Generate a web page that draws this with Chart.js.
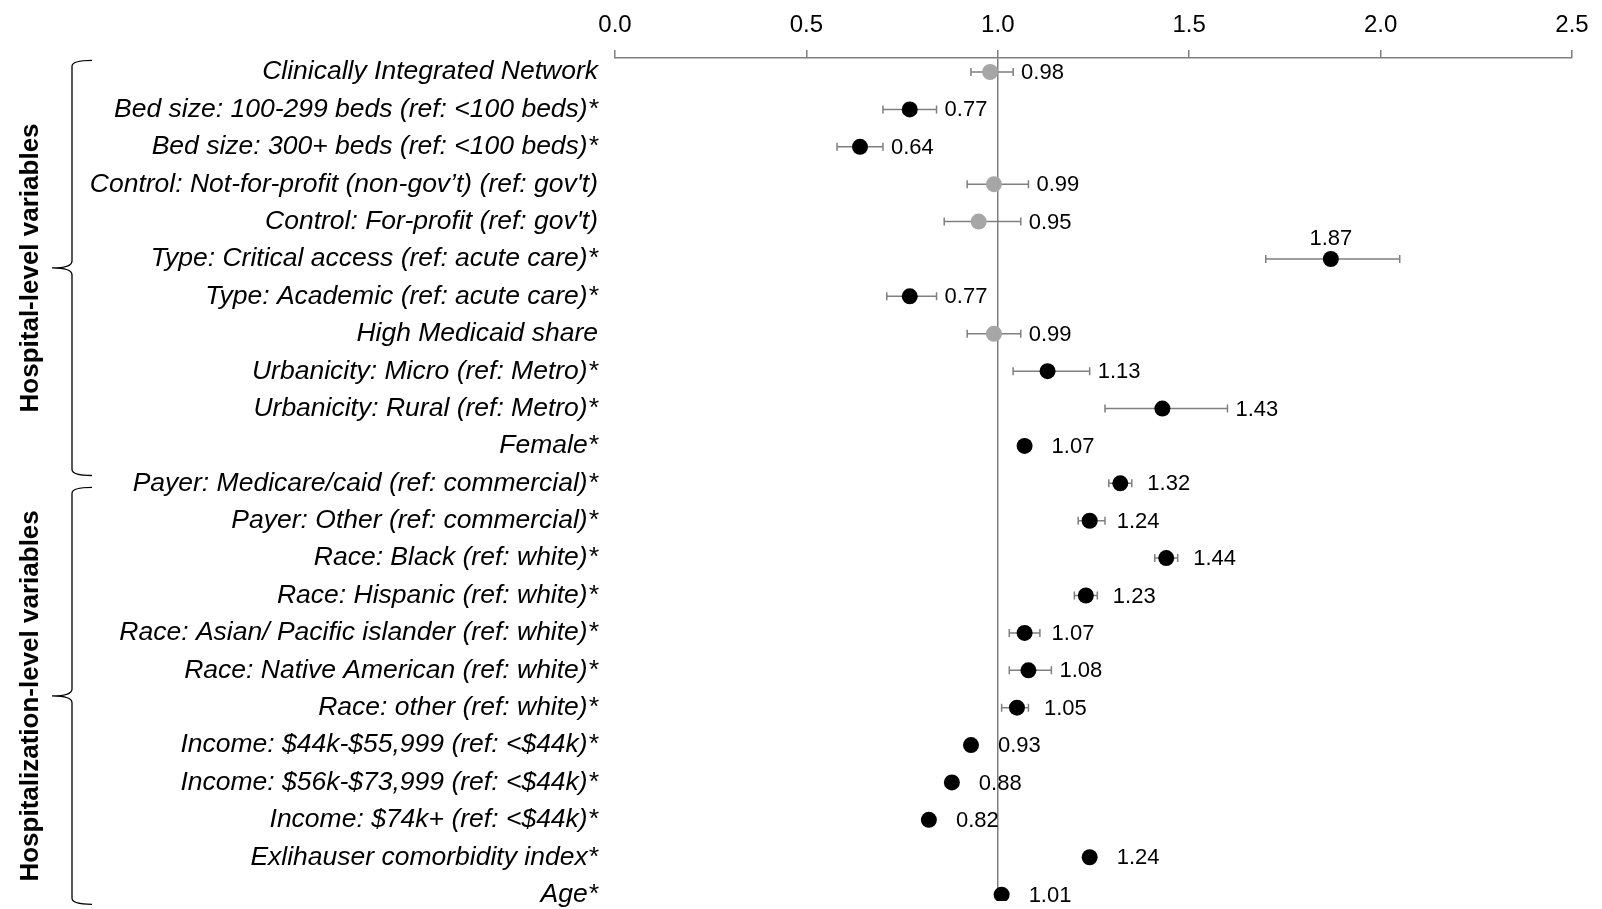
<!DOCTYPE html>
<html>
<head>
<meta charset="utf-8">
<script src="https://cdn.jsdelivr.net/npm/chart.js@4/dist/chart.umd.min.js"></script>
<style>
  html, body { margin: 0; padding: 0; background: #fff; overflow: hidden; }
  #wrap { width: 1602px; height: 909px; }
</style>
</head>
<body>
<div id="wrap"><canvas id="c" width="1602" height="909"></canvas></div>
<script>
// ---------- data ----------
const categories = [
  "Clinically Integrated Network",
  "Bed size: 100-299 beds (ref: <100 beds)*",
  "Bed size: 300+ beds (ref: <100 beds)*",
  "Control: Not-for-profit (non-gov\u2019t) (ref: gov't)",
  "Control: For-profit (ref: gov't)",
  "Type: Critical access (ref: acute care)*",
  "Type: Academic (ref: acute care)*",
  "High Medicaid share",
  "Urbanicity: Micro (ref: Metro)*",
  "Urbanicity: Rural (ref: Metro)*",
  "Female*",
  "Payer: Medicare/caid (ref: commercial)*",
  "Payer: Other (ref: commercial)*",
  "Race: Black (ref: white)*",
  "Race: Hispanic (ref: white)*",
  "Race: Asian/ Pacific islander (ref: white)*",
  "Race: Native American (ref: white)*",
  "Race: other (ref: white)*",
  "Income: $44k-$55,999 (ref: <$44k)*",
  "Income: $56k-$73,999 (ref: <$44k)*",
  "Income: $74k+ (ref: <$44k)*",
  "Exlihauser comorbidity index*",
  "Age*"
];
const estimates = [0.98,0.77,0.64,0.99,0.95,1.87,0.77,0.99,1.13,1.43,1.07,1.32,1.24,1.44,1.23,1.07,1.08,1.05,0.93,0.88,0.82,1.24,1.01];
const ciLow  = [0.93,0.70,0.58,0.92,0.86,1.70,0.71,0.92,1.04,1.28,1.06,1.29,1.21,1.41,1.20,1.03,1.03,1.01,0.92,0.87,0.81,1.23,1.00];
const ciHigh = [1.04,0.84,0.70,1.08,1.06,2.05,0.84,1.06,1.24,1.60,1.08,1.35,1.28,1.47,1.26,1.11,1.14,1.08,0.94,0.89,0.83,1.25,1.02];
const xTicks = [0.0, 0.5, 1.0, 1.5, 2.0, 2.5];
const groupLabels = ["Hospital-level variables", "Hospitalization-level variables"];
const groupSpans = [[-0.31, 10.79], [11.11, 22.26]]; // in row units
const labelsAbove = [5];

// ---------- styles ----------
const FONT = "'Liberation Sans', Arial, sans-serif";
const BLACK = "#000000";
const GREY = "#a6a6a6";
const LINE = "#7f7f7f";

const points = estimates.map((v, i) => ({ x: v, y: i }));
const pointColors = categories.map(c => c.trim().endsWith("*") ? BLACK : GREY);

const errorBars = {
  id: "errorBars",
  beforeDatasetsDraw(chart) {
    const { ctx, scales: { x, y } } = chart;
    ctx.save();
    ctx.strokeStyle = LINE;
    ctx.lineWidth = 1.5;
    estimates.forEach((v, i) => {
      const yy = y.getPixelForValue(i);
      const x1 = x.getPixelForValue(ciLow[i]);
      const x2 = x.getPixelForValue(ciHigh[i]);
      ctx.beginPath();
      ctx.moveTo(x1, yy); ctx.lineTo(x2, yy);
      ctx.moveTo(x1, yy - 4); ctx.lineTo(x1, yy + 4);
      ctx.moveTo(x2, yy - 4); ctx.lineTo(x2, yy + 4);
      ctx.stroke();
    });
    ctx.restore();
  },
  afterDatasetsDraw(chart) {
    const { ctx, scales: { x, y } } = chart;
    ctx.save();
    ctx.fillStyle = BLACK;
    ctx.font = "22px " + FONT;
    ctx.textBaseline = "middle";
    estimates.forEach((v, i) => {
      const yy = y.getPixelForValue(i);
      const xe = x.getPixelForValue(v);
      const txt = v.toFixed(2);
      if (labelsAbove.includes(i)) {
        ctx.textAlign = "center";
        ctx.fillText(txt, xe, yy - 20);
      } else {
        ctx.textAlign = "left";
        const xl = Math.max(xe + 27, x.getPixelForValue(ciHigh[i]) + 8);
        ctx.fillText(txt, xl, yy + 1);
      }
    });
    ctx.restore();
  },
  afterDraw(chart) {
    const { ctx, scales: { y } } = chart;
    ctx.save();
    ctx.strokeStyle = BLACK;
    ctx.lineWidth = 1.3;
    const xv = 72, xe = 92, xt = 52;
    groupSpans.forEach((s, g) => {
      const top = y.getPixelForValue(s[0]);
      const bot = y.getPixelForValue(s[1]);
      const mid = (top + bot) / 2;
      ctx.beginPath();
      ctx.moveTo(xe, top);
      ctx.quadraticCurveTo(xv, top, xv, top + 6);
      ctx.lineTo(xv, mid - 7);
      ctx.quadraticCurveTo(xv, mid, xt, mid);
      ctx.quadraticCurveTo(xv, mid, xv, mid + 7);
      ctx.lineTo(xv, bot - 6);
      ctx.quadraticCurveTo(xv, bot, xe, bot);
      ctx.stroke();
      ctx.save();
      ctx.translate(38, mid);
      ctx.rotate(-Math.PI / 2);
      ctx.font = "bold 26px " + FONT;
      ctx.fillStyle = BLACK;
      ctx.textAlign = "center";
      ctx.textBaseline = "alphabetic";
      ctx.fillText(groupLabels[g], 0, 0);
      ctx.restore();
    });
    ctx.restore();
  }
};

new Chart(document.getElementById("c"), {
  type: "scatter",
  data: {
    datasets: [{
      data: points,
      pointRadius: 8,
      pointHoverRadius: 8,
      pointBackgroundColor: pointColors,
      pointBorderColor: pointColors,
      pointBorderWidth: 0
    }]
  },
  options: {
    responsive: false,
    devicePixelRatio: 1,
    animation: false,
    events: [],
    layout: { padding: { top: 13, right: 30, bottom: 0, left: 0 } },
    plugins: { legend: { display: false }, tooltip: { enabled: false } },
    scales: {
      x: {
        type: "linear",
        position: "top",
        min: 0, max: 2.5,
        afterBuildTicks: ax => { ax.ticks = xTicks.map(v => ({ value: v })); },
        afterFit: ax => { ax.height = 45; ax.paddingLeft = 0; ax.paddingRight = 0; },
        ticks: {
          callback: v => Number(v).toFixed(1),
          font: { family: FONT, size: 24 },
          color: "#000",
          padding: 10,
          maxRotation: 0
        },
        grid: {
          drawOnChartArea: true,
          drawTicks: true,
          tickLength: 8,
          lineWidth: 1.5,
          tickWidth: 1.5,
          tickColor: LINE,
          color: ctx => (ctx.tick && ctx.tick.value === 1) ? LINE : "rgba(0,0,0,0)"
        },
        border: { display: true, color: LINE, width: 1.5 }
      },
      y: {
        type: "linear",
        reverse: true,
        min: -0.375, max: 22.17,
        afterBuildTicks: ax => { ax.ticks = categories.map((_, i) => ({ value: i })); },
        afterFit: ax => { ax.width = 615; ax.paddingTop = 0; ax.paddingBottom = 0; },
        ticks: {
          autoSkip: false,
          callback: v => categories[v] || "",
          font: { family: FONT, size: 26.5, style: "italic" },
          color: "#000",
          padding: 17
        },
        grid: { display: false, drawTicks: false },
        border: { display: false }
      }
    }
  },
  plugins: [errorBars]
});
</script>
</body>
</html>
